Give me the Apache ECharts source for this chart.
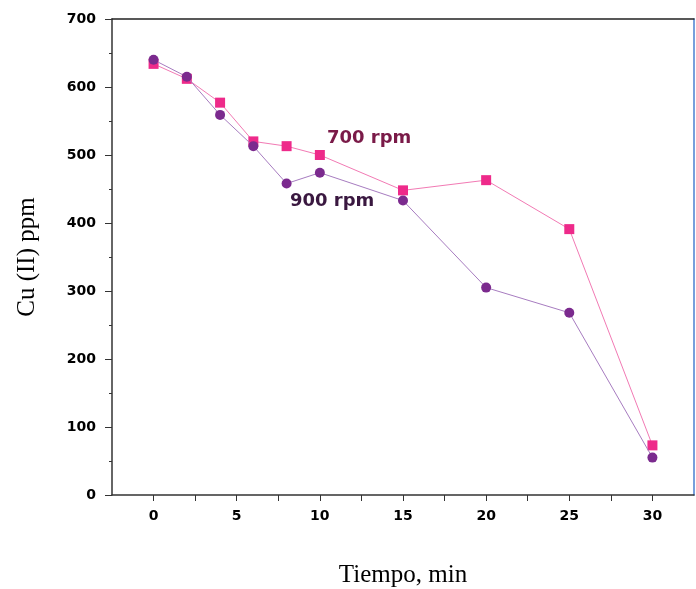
<!DOCTYPE html>
<html>
<head>
    <meta charset="utf-8">
    <script src="https://cdn.jsdelivr.net/npm/echarts@6.0.0/dist/echarts.min.js"></script>
    <style>
        html, body { margin: 0; padding: 0; background: #fff; }
    </style>
</head>
<body>
    <div id="echartsMain" style="width: 696px; height: 589px;"></div>
</body>
</html>

<script type="text/javascript">
    // tiempo (min)
    let tiempo = [0, 2, 4, 6, 8, 10, 15, 20, 25, 30]
    // Cu (II) ppm
    let rpm700 = [634, 612, 577, 520, 513, 500, 448, 463, 391, 73]
    let rpm900 = [640, 615, 559, 513, 458, 474, 433, 305, 268, 55]

    function pairs(xs, ys) {
        return xs.map((x, i) => [x, ys[i]])
    }

    let myChart = echarts.init(document.getElementById('echartsMain'))

    let tickLabel = {
        color: '#000',
        fontFamily: 'DejaVu Sans',
        fontWeight: 'bold',
        fontSize: 14
    }

    let option = {
        animation: false,
        backgroundColor: '#fff',
        grid: { left: 112, right: 2, top: 19, bottom: 94, outerBoundsMode: 'none' },
        xAxis: [{
            type: 'value',
            min: -2.5,
            max: 32.5,
            interval: 2.5,
            name: 'Tiempo, min',
            nameLocation: 'middle',
            nameGap: 68,
            nameTextStyle: { fontFamily: 'Liberation Serif', fontSize: 25, color: '#000' },
            splitLine: { show: false },
            axisLine: { onZero: false, lineStyle: { color: '#333', width: 1.5 } },
            axisTick: { show: true, inside: false, length: 6, lineStyle: { color: '#333' } },
            axisLabel: Object.assign({
                margin: 14,
                showMinLabel: false,
                showMaxLabel: false,
                formatter: v => (v >= 0 && v % 5 === 0) ? String(v) : ''
            }, tickLabel)
        }, {
            type: 'value',
            position: 'top',
            min: -2.5,
            max: 32.5,
            axisLine: { show: true, onZero: false, lineStyle: { color: '#222', width: 1.5 } },
            axisTick: { show: false },
            axisLabel: { show: false },
            splitLine: { show: false }
        }],
        yAxis: [{
            type: 'value',
            min: 0,
            max: 700,
            interval: 100,
            name: 'Cu (II) ppm',
            nameLocation: 'middle',
            nameGap: 72,
            nameTextStyle: { fontFamily: 'Liberation Serif', fontSize: 25, color: '#000' },
            splitLine: { show: false },
            axisLine: { show: true, onZero: false, lineStyle: { color: '#333', width: 1.5 } },
            axisTick: { show: true, inside: false, length: 7, lineStyle: { color: '#333' } },
            minorTick: { show: true, splitNumber: 2, length: 3, lineStyle: { color: '#333' } },
            axisLabel: Object.assign({ margin: 16 }, tickLabel)
        }, {
            type: 'value',
            position: 'right',
            min: 0,
            max: 700,
            axisLine: { show: true, onZero: false, lineStyle: { color: '#4a7fd0', width: 1.5 } },
            axisTick: { show: false },
            axisLabel: { show: false },
            splitLine: { show: false }
        }],
        graphic: [{
            type: 'text',
            left: 327,
            top: 129,
            style: {
                text: '700 rpm',
                fill: '#7a1a48',
                font: 'bold 18px "DejaVu Sans"'
            }
        }, {
            type: 'text',
            left: 290,
            top: 192,
            style: {
                text: '900 rpm',
                fill: '#3a1840',
                font: 'bold 18px "DejaVu Sans"'
            }
        }],
        series: [{
            name: '700 rpm',
            type: 'line',
            data: pairs(tiempo, rpm700),
            symbol: 'rect',
            symbolSize: 10,
            itemStyle: { color: '#ee2a8a' },
            lineStyle: { color: '#f27ab4', width: 1 },
            z: 3
        }, {
            name: '900 rpm',
            type: 'line',
            data: pairs(tiempo, rpm900),
            symbol: 'circle',
            symbolSize: 10,
            itemStyle: { color: '#7b2a8e' },
            lineStyle: { color: '#a77cc0', width: 1 },
            z: 4
        }]
    }
    myChart.setOption(option)
</script>
